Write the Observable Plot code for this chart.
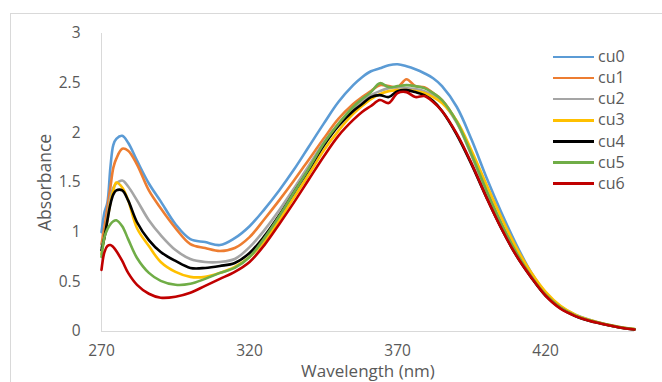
<!DOCTYPE html>
<html>
<head>
<meta charset="utf-8">
<script src="https://cdn.jsdelivr.net/npm/d3@7"></script>
<script src="https://cdn.jsdelivr.net/npm/@observablehq/plot@0.6"></script>
<style>
  html, body { margin: 0; padding: 0; background: #fff; overflow: hidden; }
  #wrap { position: relative; width: 662px; height: 382px; overflow: hidden; font-family: "Open Sans", sans-serif; }
  #frame { position: absolute; left: 10px; top: 13px; width: 700px; height: 420px; border: 1px solid #d9d9d9; box-sizing: border-box; }
  #chart { position: absolute; left: 0; top: 0; }
  #legend { position: absolute; left: 553px; top: 46px; }
  .row { position: relative; height: 21.15px; }
  .sw { position: absolute; left: 0; top: 9.5px; width: 41px; height: 2.6px; }
  .lab { position: absolute; left: 45px; top: 0; line-height: 21px; font-size: 16px; color: #595959; }
</style>
</head>
<body>
<div id="wrap">
  <div id="frame"></div>
  <div id="chart"></div>
  <div id="legend"></div>
</div>
<script>
const wavelength = [270, 271, 272, 273, 274, 275, 277, 279, 282, 286, 290, 295, 300, 305, 310, 315, 320, 325, 330, 335, 340, 345, 350, 355, 358, 361, 364, 367, 370, 373, 376, 379, 382, 385, 390, 395, 400, 405, 410, 415, 420, 425, 430, 435, 440, 445, 450];

const seriesNames = ["cu0", "cu1", "cu2", "cu3", "cu4", "cu5", "cu6"];
const seriesColors = ["#5B9BD5", "#ED7D31", "#A5A5A5", "#FFC000", "#000000", "#70AD47", "#C00000"];

const cu0 = [1.00, 1.20, 1.30, 1.65, 1.88, 1.94, 1.97, 1.90, 1.72, 1.49, 1.31, 1.08, 0.93, 0.90, 0.87, 0.94, 1.06, 1.23, 1.42, 1.63, 1.86, 2.09, 2.31, 2.48, 2.56, 2.62, 2.65, 2.68, 2.69, 2.67, 2.64, 2.60, 2.55, 2.47, 2.26, 1.93, 1.55, 1.20, 0.88, 0.60, 0.39, 0.25, 0.17, 0.115, 0.075, 0.045, 0.025];
const cu1 = [0.88, 1.05, 1.25, 1.45, 1.65, 1.74, 1.84, 1.82, 1.68, 1.42, 1.24, 1.04, 0.88, 0.84, 0.81, 0.84, 0.95, 1.13, 1.32, 1.52, 1.73, 1.94, 2.14, 2.29, 2.36, 2.42, 2.48, 2.47, 2.46, 2.54, 2.47, 2.46, 2.40, 2.33, 2.11, 1.78, 1.42, 1.09, 0.80, 0.56, 0.37, 0.24, 0.16, 0.11, 0.072, 0.042, 0.022];
const cu2 = [0.85, 0.95, 1.15, 1.35, 1.45, 1.49, 1.52, 1.46, 1.32, 1.12, 0.97, 0.82, 0.73, 0.70, 0.70, 0.73, 0.85, 1.02, 1.22, 1.44, 1.67, 1.90, 2.09, 2.24, 2.32, 2.38, 2.42, 2.45, 2.46, 2.45, 2.44, 2.42, 2.38, 2.31, 2.10, 1.77, 1.41, 1.08, 0.79, 0.56, 0.37, 0.24, 0.16, 0.11, 0.072, 0.042, 0.022];
const cu3 = [0.78, 0.95, 1.12, 1.30, 1.42, 1.50, 1.45, 1.32, 1.04, 0.86, 0.70, 0.60, 0.55, 0.55, 0.59, 0.65, 0.75, 0.91, 1.12, 1.35, 1.58, 1.82, 2.02, 2.19, 2.27, 2.34, 2.39, 2.42, 2.43, 2.43, 2.42, 2.40, 2.36, 2.30, 2.12, 1.82, 1.48, 1.15, 0.85, 0.60, 0.40, 0.26, 0.17, 0.115, 0.075, 0.045, 0.025];
const cu4 = [0.82, 0.95, 1.12, 1.28, 1.38, 1.42, 1.42, 1.32, 1.10, 0.92, 0.80, 0.71, 0.64, 0.64, 0.66, 0.69, 0.79, 0.96, 1.17, 1.40, 1.63, 1.87, 2.07, 2.22, 2.29, 2.36, 2.38, 2.36, 2.42, 2.43, 2.41, 2.38, 2.32, 2.22, 1.98, 1.68, 1.35, 1.04, 0.77, 0.55, 0.36, 0.235, 0.155, 0.105, 0.07, 0.04, 0.02];
const cu5 = [0.75, 0.95, 1.03, 1.08, 1.11, 1.12, 1.06, 0.93, 0.74, 0.59, 0.51, 0.47, 0.48, 0.53, 0.59, 0.64, 0.75, 0.94, 1.16, 1.40, 1.64, 1.89, 2.09, 2.26, 2.34, 2.41, 2.50, 2.46, 2.47, 2.48, 2.47, 2.45, 2.40, 2.33, 2.11, 1.78, 1.42, 1.09, 0.80, 0.56, 0.37, 0.24, 0.16, 0.11, 0.072, 0.042, 0.022];
const cu6 = [0.62, 0.80, 0.86, 0.87, 0.85, 0.81, 0.71, 0.59, 0.47, 0.38, 0.34, 0.35, 0.39, 0.46, 0.53, 0.60, 0.70, 0.87, 1.08, 1.30, 1.53, 1.76, 1.97, 2.13, 2.21, 2.27, 2.33, 2.30, 2.40, 2.41, 2.36, 2.37, 2.31, 2.22, 1.99, 1.69, 1.35, 1.04, 0.77, 0.55, 0.36, 0.23, 0.155, 0.105, 0.07, 0.04, 0.02];

const xTicks = [270, 320, 370, 420];
const yTicks = [0, 0.5, 1, 1.5, 2, 2.5, 3];

const allSeries = [cu0, cu1, cu2, cu3, cu4, cu5, cu6];
const rows = [];
allSeries.forEach((vals, i) => {
  vals.forEach((v, j) => rows.push({series: seriesNames[i], wavelength: wavelength[j], absorbance: v}));
});

const chart = Plot.plot({
  width: 662,
  height: 382,
  marginLeft: 101,
  marginRight: 28,
  marginTop: 33,
  marginBottom: 51,
  style: {fontFamily: "'Open Sans', sans-serif", fontSize: "15.5px", color: "#595959", background: "transparent"},
  x: {domain: [270, 450]},
  y: {domain: [0, 3]},
  color: {domain: seriesNames, range: seriesColors},
  marks: [
    Plot.ruleX([270], {stroke: "#d9d9d9", strokeWidth: 1}),
    Plot.ruleY([0], {stroke: "#d9d9d9", strokeWidth: 1}),
    Plot.axisX({ticks: xTicks, tickSize: 0, tickPadding: 13, label: null, fontSize: 15.5}),
    Plot.axisY({ticks: yTicks, tickSize: 0, tickPadding: 21, label: null, tickFormat: d => String(d), fontSize: 15.5}),
    Plot.line(rows, {x: "wavelength", y: "absorbance", z: "series", stroke: "series", strokeWidth: 2.6, curve: "catmull-rom", strokeLinejoin: "round"}),
    Plot.text(["Absorbance"], {text: d => d, frameAnchor: "left", dx: -56, rotate: -90, lineAnchor: "middle", textAnchor: "middle", fontSize: 17.5, fill: "#595959"}),
    Plot.text(["Wavelength (nm)"], {text: d => d, frameAnchor: "bottom", dy: 40, lineAnchor: "middle", textAnchor: "middle", fontSize: 17, fill: "#595959"})
  ]
});
document.getElementById("chart").appendChild(chart);

const legend = document.getElementById("legend");
seriesNames.forEach((name, i) => {
  const row = document.createElement("div");
  row.className = "row";
  const sw = document.createElement("div");
  sw.className = "sw";
  sw.style.background = seriesColors[i];
  const lab = document.createElement("div");
  lab.className = "lab";
  lab.textContent = name;
  row.appendChild(sw);
  row.appendChild(lab);
  legend.appendChild(row);
});
</script>
</body>
</html>
